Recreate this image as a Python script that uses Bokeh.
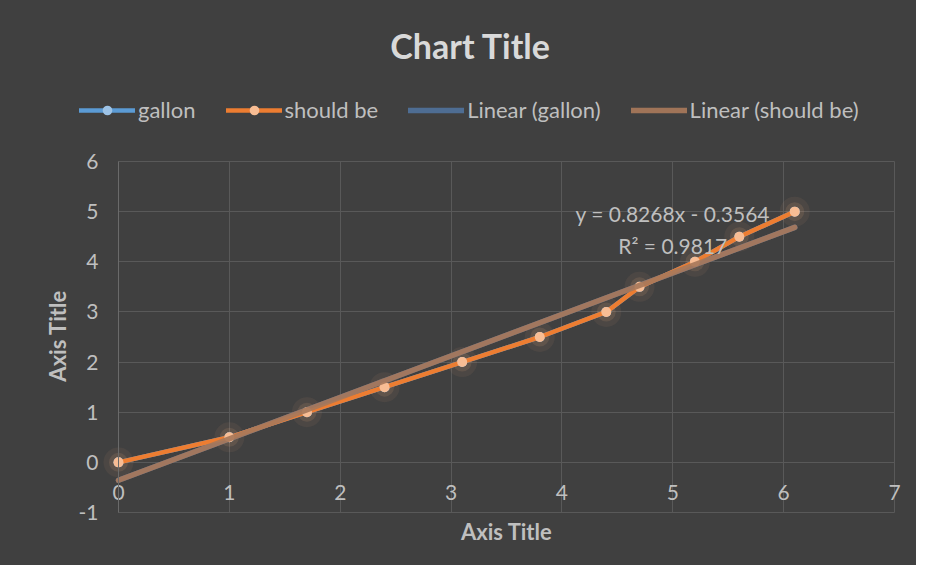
from bokeh.plotting import figure
from bokeh.models import Range1d, FixedTicker, Legend, LegendItem, LinearAxis
from bokeh.embed import file_html
from bokeh.resources import INLINE
from bokeh.core.properties import value

# ---- data ----
x_vals = [0, 1, 1.7, 2.4, 3.1, 3.8, 4.4, 4.7, 5.2, 5.6, 6.1]
gallon = [0, 0.5, 1, 1.5, 2, 2.5, 3, 3.5, 4, 4.5, 5]
should_be = [0, 0.5, 1, 1.5, 2, 2.5, 3, 3.5, 4, 4.5, 5]
x_ticks = [0, 1, 2, 3, 4, 5, 6, 7]
y_ticks = [-1, 0, 1, 2, 3, 4, 5, 6]
y_tick_labels = {-1: "-1"}
trend_slope = 0.8268
trend_intercept = -0.3564
trend_r2 = 0.9817
eq_lines = ["y = 0.8268x - 0.3564", "R² = 0.9817"]
series_names = ["gallon", "should be", "Linear (gallon)", "Linear (should be)"]
chart_title = "Chart Title"
x_title = "Axis Title"
y_title = "Axis Title"

FONT = "Lato"
BG = "#404040"
GRID = "#595959"
TXT = "#bfbfbf"
C_GAL, C_GAL_M = "#5B9BD5", "#9DC3E6"
C_SB, C_SB_M = "#ED7D31", "#F8BD94"
C_GAL_T, C_SB_T = "#4E6D93", "#A8785A"
NB = "\u00a0"  # non-breaking spaces nudge centred titles

trend_x = [min(x_vals), max(x_vals)]
trend_y = [trend_slope * v + trend_intercept for v in trend_x]

# plot box spans x 0..7 and y -1..6; the frame is enlarged (left, top, bottom)
# so that the legend and the tick labels, which are clipped to the frame, fit
X_BOX = (0, 7)
Y_BOX = (-1, 6)
x_range = Range1d(-0.433, 7.009)
y_range = Range1d(-1.279, 7.815)

p = figure(width=916, height=565, x_range=x_range, y_range=y_range,
           output_backend="svg", toolbar_location=None,
           background_fill_color=BG, border_fill_color=BG,
           min_border_left=70, min_border_right=21, min_border_top=70,
           min_border_bottom=39)
p.outline_line_color = None
p.styles = {"background-color": BG}

p.title.text = chart_title + NB * 3
p.title.align = "center"
p.title.text_font = FONT
p.title.text_font_size = "34px"
p.title.text_font_style = "bold"
p.title.text_color = "#d9d9d9"

xa = p.xaxis[0]
xa.ticker = FixedTicker(ticks=x_ticks)
xa.bounds = X_BOX
xa.axis_line_color = None
xa.major_tick_line_color = None
xa.minor_tick_line_color = None
xa.major_tick_out = 0
xa.major_tick_in = 0
xa.major_label_text_font = FONT
xa.major_label_text_font_size = "21px"
xa.major_label_text_color = TXT
xa.major_label_standoff = -42
xa.axis_label = NB * 9 + x_title
xa.axis_label_text_font = FONT
xa.axis_label_text_font_size = "22px"
xa.axis_label_text_font_style = "bold"
xa.axis_label_text_color = TXT
xa.axis_label_standoff = 15

# inner left axis: carries only the axis title
ya = p.yaxis[0]
ya.ticker = FixedTicker(ticks=[])
ya.bounds = Y_BOX
ya.axis_line_color = None
ya.major_tick_line_color = None
ya.minor_tick_line_color = None
ya.major_tick_out = 0
ya.major_tick_in = 0
ya.major_label_standoff = 0
ya.axis_label = y_title + NB * 14
ya.axis_label_text_font = FONT
ya.axis_label_text_font_size = "22px"
ya.axis_label_text_font_style = "bold"
ya.axis_label_text_color = TXT
ya.axis_label_standoff = 0

# tick axis drawn at x = 0
y0 = LinearAxis(fixed_location=0, ticker=FixedTicker(ticks=y_ticks), bounds=Y_BOX)
y0.major_label_overrides = y_tick_labels
y0.axis_line_color = "#6a6a6a"
y0.major_tick_line_color = None
y0.minor_tick_line_color = None
y0.major_tick_out = 0
y0.major_tick_in = 0
y0.major_label_text_font = FONT
y0.major_label_text_font_size = "21px"
y0.major_label_text_color = TXT
y0.major_label_standoff = 20
p.add_layout(y0, "left")

p.xgrid.grid_line_color = GRID
p.ygrid.grid_line_color = GRID
p.xgrid.cross_bounds = Y_BOX
p.ygrid.cross_bounds = X_BOX
p.ygrid[0].ticker = FixedTicker(ticks=y_ticks)

# soft glow around markers
p.scatter(x_vals, should_be, size=30, fill_color="#F4B183", fill_alpha=0.07, line_color=None)
p.scatter(x_vals, should_be, size=19, fill_color="#F4B183", fill_alpha=0.12, line_color=None)

r1 = p.line(x_vals, gallon, line_color=C_GAL, line_width=4.5, line_cap="round")
r2 = p.scatter(x_vals, gallon, size=10, fill_color=C_GAL_M, line_color=None)
r3 = p.line(trend_x, trend_y, line_color=C_GAL_T, line_width=5.5, line_cap="round")
r4 = p.line(x_vals, should_be, line_color=C_SB, line_width=4.5, line_cap="round")
r5 = p.scatter(x_vals, should_be, size=10, fill_color=C_SB_M, line_color=None)
r6 = p.line(trend_x, trend_y, line_color=C_SB_T, line_width=5.5, line_alpha=0.92,
            line_cap="round")

p.text(x=[5.0, 5.0], y=[4.97, 4.33], text=eq_lines, text_align="center",
       text_baseline="middle", text_color=TXT, text_font=value(FONT),
       text_font_size="21px")

legend = Legend(items=[
    LegendItem(label=series_names[0], renderers=[r1, r2]),
    LegendItem(label=series_names[1], renderers=[r4, r5]),
    LegendItem(label=series_names[2], renderers=[r3]),
    LegendItem(label=series_names[3], renderers=[r6]),
], orientation="horizontal", location=(9, 403),
    background_fill_alpha=0, border_line_color=None,
    label_text_font=FONT, label_text_font_size="22px", label_text_color=TXT,
    glyph_width=56, glyph_height=24, label_standoff=3, spacing=30,
    padding=0, margin=0)
p.add_layout(legend)

open("out.html", "w").write(file_html(p, INLINE))
